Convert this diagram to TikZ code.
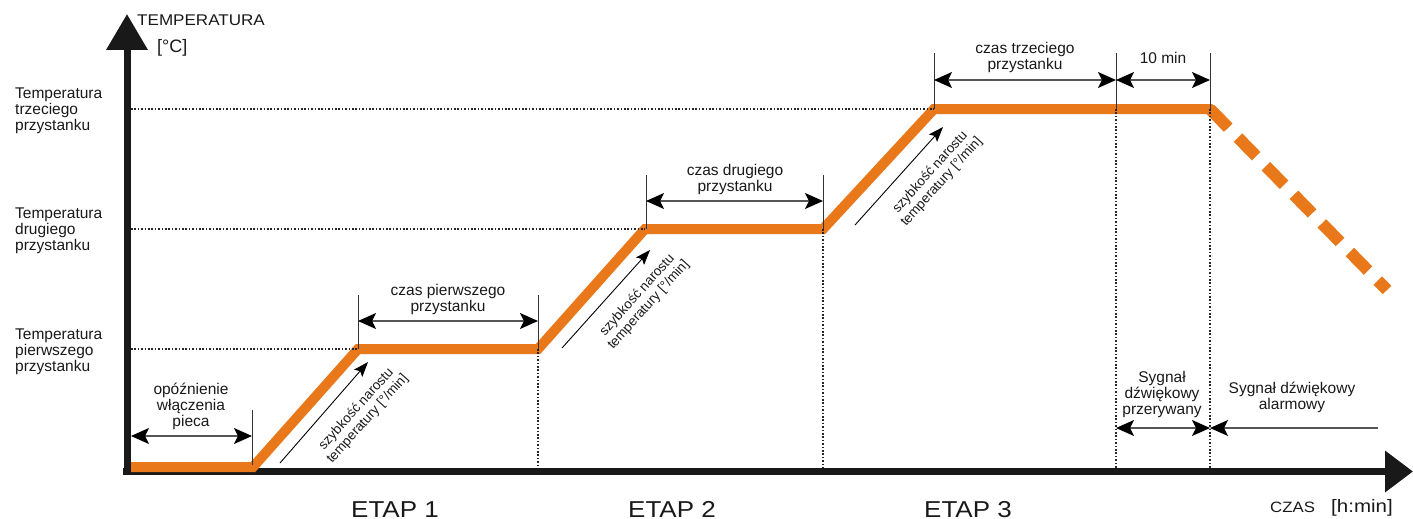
\documentclass[tikz,border=0pt]{standalone}
\usepackage{fontspec}
\setmainfont{Liberation Sans}
\usetikzlibrary{arrows.meta,calc}
\definecolor{orng}{RGB}{232,120,26}
\definecolor{dimgray}{RGB}{85,85,85}
\begin{document}
\begin{tikzpicture}[x=1pt,y=-1pt,
  lbl/.style={font=\fontsize{15.5}{16}\selectfont, align=center, inner sep=0pt, text=black!90},
  sidelbl/.style={lbl, align=left, anchor=west},
  rotlbl/.style={font=\fontsize{13.5}{15}\selectfont, align=center, inner sep=0pt, rotate=48, text=black!90},
  etap/.style={font=\fontsize{23}{25}\selectfont, inner sep=0pt, anchor=base, xscale=1.13, text=black!90},
  axisline/.style={line width=7pt, draw=black!90},
  profile/.style={draw=orng, line width=10pt, line join=miter},
  dimarrow/.style={draw=dimgray, line width=1.3pt,
     {Stealth[length=18pt,width=16pt,inset=4pt,color=black]}-{Stealth[length=18pt,width=16pt,inset=4pt,color=black]}},
  dimleft/.style={draw=dimgray, line width=1.3pt,
     -{Stealth[length=18pt,width=16pt,inset=4pt,color=black]}},
  tickline/.style={draw=black!80, line width=1pt},
  dotline/.style={draw=black!85, line width=1.6pt, dash pattern=on 1.6pt off 1.8pt},
  slopearrow/.style={draw=black, line width=0.9pt, -{Stealth[length=15pt,width=11pt,inset=3pt]}}
]
\useasboundingbox (0,0) rectangle (1413,519);

% key points
\coordinate (ybot) at (127,475);
\coordinate (ytop) at (127,14);
\coordinate (xleft) at (123,471.5);
\coordinate (xright) at (1413,471.5);
\coordinate (p0) at (131,467);
\coordinate (p1) at (253,467);
\coordinate (p2) at (358,349);
\coordinate (p3) at (538,349);
\coordinate (p4) at (645,229);
\coordinate (p5) at (823,229);
\coordinate (p6) at (934,109);
\coordinate (p7) at (1116,109);
\coordinate (p8) at (1210,109);
\coordinate (p9) at (1387,290);

% axes
\draw[axisline, -{Triangle[length=36pt,width=40pt]}] (ybot) -- (ytop);
\draw[axisline, -{Triangle[length=28pt,width=40pt]}] (xleft) -- (xright);

% temperature profile
\draw[profile] (p0) -- (p1) -- (p2) -- (p3) -- (p4) -- (p5) -- (p6) -- (p7) -- (p8) -- ($(p8)!26pt!(p9)$);
\draw[draw=orng, line width=12pt, dash pattern=on 26pt off 14pt] (p8) -- (p9);

% dotted guide lines
\coordinate (h1) at (131,349);
\coordinate (h2) at (131,229);
\coordinate (h3) at (131,109);
\draw[dotline] (h1) -- (p2);
\draw[dotline] (h2) -- (p4);
\draw[dotline] (h3) -- (p6);
\coordinate (v3) at (538,468);
\coordinate (v5) at (823,468);
\coordinate (v7) at (1116,468);
\coordinate (v8) at (1210,468);
\draw[dotline] (p3) -- (v3);
\draw[dotline] (p5) -- (v5);
\draw[dotline] (p7) -- (v7);
\draw[dotline] (p8) -- (v8);

% ticks
\coordinate (t1) at (252,410); \coordinate (t1b) at (252,465);
\coordinate (t2) at (358,295); \coordinate (t3) at (538,295);
\coordinate (t4) at (646,175); \coordinate (t4b) at (646,229); \coordinate (t5) at (823,175);
\coordinate (t6) at (934,53); \coordinate (t7) at (1116,53); \coordinate (t8) at (1210,53);
\draw[tickline] (t1) -- (t1b);
\draw[tickline] (t2) -- (p2);
\draw[tickline] (t3) -- (p3);
\draw[tickline] (t4) -- (t4b);
\draw[tickline] (t5) -- (p5);
\draw[tickline] (t6) -- (p6);
\draw[tickline] (t7) -- (p7);
\draw[tickline] (t8) -- (p8);

% dimension arrows
\coordinate (d0a) at (131,436); \coordinate (d0b) at (252,436);
\coordinate (d1a) at (358,321); \coordinate (d1b) at (538,321);
\coordinate (d2a) at (646,201); \coordinate (d2b) at (823,201);
\coordinate (d3a) at (934,80); \coordinate (d3b) at (1116,80); \coordinate (d3c) at (1210,80);
\coordinate (s1a) at (1116,428); \coordinate (s1b) at (1210,428); \coordinate (s2a) at (1378,428);
\draw[dimarrow] (d0a) -- (d0b);
\draw[dimarrow] (d1a) -- (d1b);
\draw[dimarrow] (d2a) -- (d2b);
\draw[dimarrow] (d3a) -- (d3b);
\draw[dimarrow] (d3b) -- (d3c);
\draw[dimarrow] (s1a) -- (s1b);
\draw[dimleft] (s2a) -- (s1b);

% slope arrows
\coordinate (a1s) at (280,463); \coordinate (a1e) at (368,362);
\coordinate (a2s) at (562,348); \coordinate (a2e) at (650,250);
\coordinate (a3s) at (855,225); \coordinate (a3e) at (943,127);
\draw[slopearrow] (a1s) -- (a1e);
\draw[slopearrow] (a2s) -- (a2e);
\draw[slopearrow] (a3s) -- (a3e);

% labels
\node[rotlbl] (r1) at (362,414) {szybkość narostu\\temperatury [°/min]};
\node[rotlbl] (r2) at (643,300) {szybkość narostu\\temperatury [°/min]};
\node[rotlbl] (r3) at (936,177) {szybkość narostu\\temperatury [°/min]};

\node[lbl] (l0) at (191,406) {opóźnienie\\włączenia\\pieca};
\node[lbl] (l1) at (448,299) {czas pierwszego\\przystanku};
\node[lbl] (l2) at (735,179) {czas drugiego\\przystanku};
\node[lbl] (l3) at (1025,57) {czas trzeciego\\przystanku};
\node[lbl] (l4) at (1163,58) {10 min};
\node[lbl] (l5) at (1162,394) {Sygnał\\dźwiękowy\\przerywany};
\node[lbl] (l6) at (1292,397) {Sygnał dźwiękowy\\alarmowy};

\node[sidelbl] (y3) at (15,111) {Temperatura\\trzeciego\\przystanku};
\node[sidelbl] (y2) at (15,231) {Temperatura\\drugiego\\przystanku};
\node[sidelbl] (y1) at (15,352) {Temperatura\\pierwszego\\przystanku};

\node[font=\fontsize{15.5}{16}\selectfont, inner sep=0pt, anchor=west, xscale=1.1, text=black!90] (ttl) at (137,20) {TEMPERATURA};
\node[font=\fontsize{18}{20}\selectfont, inner sep=0pt, anchor=west, text=black!90] (unit) at (157,48) {[°C]};

\node[etap] (e1) at (395,517) {ETAP 1};
\node[etap] (e2) at (672,517) {ETAP 2};
\node[etap] (e3) at (968,517) {ETAP 3};

\node[font=\fontsize{15}{16}\selectfont, inner sep=0pt, anchor=base west, xscale=1.12, text=black!90] (czas) at (1270,512) {CZAS};
\node[font=\fontsize{18}{20}\selectfont, inner sep=0pt, anchor=base west, xscale=1.14, text=black!90] (hmin) at (1331,512) {[h:min]};
\end{tikzpicture}
\end{document}
